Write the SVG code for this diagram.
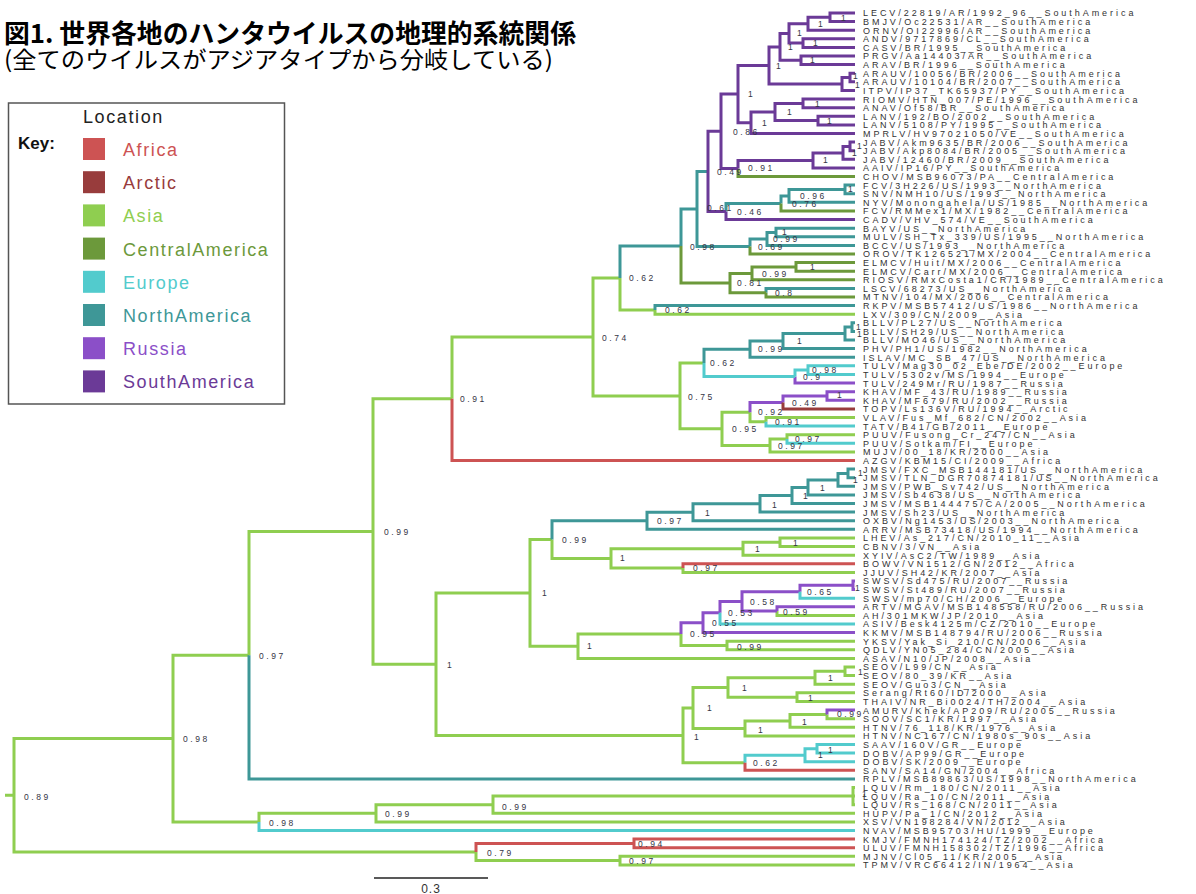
<svg xmlns="http://www.w3.org/2000/svg" width="1196" height="894" viewBox="0 0 1196 894">
<style>
.br{fill:none;stroke-width:3;stroke-linejoin:miter;stroke-linecap:butt}
.cG{stroke:#8fce50}.cN{stroke:#3e9797}.cC{stroke:#6c993b}.cS{stroke:#6b3a97}
.cU{stroke:#8b4fc8}.cE{stroke:#52cbcd}.cA{stroke:#cd5353}.cR{stroke:#983c3c}
.t{font-family:"Liberation Sans",Arial,sans-serif;font-size:9px;letter-spacing:2.95px;fill:#333}
.s{font-family:"Liberation Sans",Arial,sans-serif;font-size:8.5px;letter-spacing:2.6px;fill:#353545}
.lg{font-family:"Liberation Sans",Arial,sans-serif;font-size:18px;letter-spacing:1.6px}
</style>
<rect width="1196" height="894" fill="#ffffff"/>
<g id="title">
<text x="4" y="43" font-family="'Noto Sans CJK JP','Liberation Sans',sans-serif" font-size="26" font-weight="bold" fill="#000" textLength="572" lengthAdjust="spacingAndGlyphs">図1. 世界各地のハンタウイルスの地理的系統関係</text>
<text x="4" y="68" font-family="'Noto Sans CJK JP','Liberation Sans',sans-serif" font-size="23" fill="#000" textLength="549" lengthAdjust="spacingAndGlyphs">(全てのウイルスがアジアタイプから分岐している)</text>
</g>
<g id="legend">
<rect x="8.5" y="103" width="276" height="301" fill="none" stroke="#555" stroke-width="1.5"/>
<text x="83" y="123" class="lg" fill="#222">Location</text>
<text x="18" y="149" font-family="'Liberation Sans',Arial,sans-serif" font-size="17" font-weight="bold" fill="#111">Key:</text>
<rect x="83" y="138" width="22" height="22" fill="#cd5353"/><text x="123" y="156" class="lg" fill="#cd5353">Africa</text>
<rect x="83" y="171.2" width="22" height="22" fill="#983c3c"/><text x="123" y="189.2" class="lg" fill="#983c3c">Arctic</text>
<rect x="83" y="204.4" width="22" height="22" fill="#8fce50"/><text x="123" y="222.4" class="lg" fill="#8fce50">Asia</text>
<rect x="83" y="237.6" width="22" height="22" fill="#6c993b"/><text x="123" y="255.6" class="lg" fill="#6c993b">CentralAmerica</text>
<rect x="83" y="270.8" width="22" height="22" fill="#52cbcd"/><text x="123" y="288.8" class="lg" fill="#52cbcd">Europe</text>
<rect x="83" y="304" width="22" height="22" fill="#3e9797"/><text x="123" y="322" class="lg" fill="#3e9797">NorthAmerica</text>
<rect x="83" y="337.2" width="22" height="22" fill="#8b4fc8"/><text x="123" y="355.2" class="lg" fill="#8b4fc8">Russia</text>
<rect x="83" y="370.4" width="22" height="22" fill="#6b3a97"/><text x="123" y="388.4" class="lg" fill="#6b3a97">SouthAmerica</text>
</g>
<g id="connectors">
<path class="br cG" d="M5,795.3H14 M14,795.3V738.6H173 M14,795.3V852H476 M173,738.6V655.2H249 M173,738.6V821.9H259 M249,655.2V531.5H373 M373,531.5V398.7H452 M373,531.5V664.2H436 M452,398.7V337H593 M593,337V278H620 M593,337V395.9H680 M620,278V309.9H655 M655,309.9V314.2H855 M680,395.9V362.9H704 M680,395.9V428.8H722 M722,428.8V412.2H750 M722,428.8V445.5H770 M750,412.2V421.8H766 M766,421.8V417.5H855 M770,445.5V439H787 M770,445.5V451.9H855 M787,439V434.7H855 M436,664.2V593H530 M436,664.2V735.4H683 M530,593V539.6H552 M530,593V646.3H578 M552,539.6V558.4H611 M611,558.4V548.7H743 M611,558.4V568.1H683 M743,548.7V542.2H780 M743,548.7V555.2H855 M780,542.2V537.9H855 M780,542.2V546.5H855 M683,568.1V572.4H855 M578,646.3V634.1H681 M578,646.3V658.4H855 M681,634.1V645.5H727 M727,645.5V641.2H855 M727,645.5V649.8H855 M777,611.1V615.4H855 M683,735.4V708H693 M683,735.4V762.8H745 M693,708V687.5H728 M693,708V728.4H745 M728,687.5V677.8H815 M728,687.5V697.2H797 M815,677.8V671.3H845 M815,677.8V684.2H855 M845,671.3V667H855 M845,671.3V675.6H855 M797,697.2V692.8H855 M797,697.2V701.5H855 M745,728.4V720.9H790 M745,728.4V735.9H855 M790,720.9V714.4H827 M790,720.9V727.3H855 M827,714.4V718.7H855 M259,821.9V813.3H376 M376,813.3V804.7H493 M376,813.3V821.9H855 M493,804.7V796.1H853 M493,804.7V813.3H855 M853,796.1V787.5H855 M853,796.1H855 M853,796.1V804.7H855 M476,852V860.6H620 M620,860.6V856.3H855 M620,860.6V864.9H855"/>
<path class="br cN" d="M249,655.2V778.9H855 M620,278V246H681 M655,309.9V305.6H855 M681,246V209H697 M697,209V171.4H708 M697,209V246.5H750 M726,211.5V203.4H781 M781,203.4V195.9H789 M789,195.9V189.4H845 M789,195.9V202.3H855 M845,189.4V185.1H855 M845,189.4V193.7H855 M750,246.5V239H767 M767,239V232.5H776 M767,239V245.4H855 M776,232.5V228.2H855 M776,232.5V236.8H855 M766,292.7V288.4H855 M704,362.9V349.2H750 M750,349.2V341.1H783 M750,349.2V357.2H855 M783,341.1V333.6H845 M783,341.1V348.6H855 M845,333.6V327.1H852 M845,333.6V340H855 M852,327.1V322.8H855 M852,327.1V331.4H855 M552,539.6V520.8H647 M647,520.8V512.2H693 M647,520.8V529.3H855 M693,512.2V503.8H760 M693,512.2V520.7H855 M760,503.8V495.5H792 M760,503.8V512.1H855 M792,495.5V487.4H808 M792,495.5V503.5H855 M808,487.4V479.9H838 M808,487.4V494.9H855 M838,479.9V473.4H848 M838,479.9V486.3H855 M848,473.4V469.1H855 M848,473.4V477.7H855"/>
<path class="br cC" d="M681,246V283.1H730 M738,168.5V176.5H855 M781,203.4V210.9H855 M750,246.5V254H855 M730,283.1V273.4H752 M730,283.1V292.7H766 M752,273.4V266.9H796 M752,273.4V279.8H855 M796,266.9V262.6H855 M796,266.9V271.2H855 M766,292.7V297H855"/>
<path class="br cS" d="M708,171.4V131.3H721 M708,171.4V211.5H726 M726,211.5V219.5H855 M721,131.3V94.1H738 M721,131.3V168.5H738 M738,168.5V160.4H813 M813,160.4V152.9H843 M813,160.4V167.9H855 M843,152.9V146.4H850 M843,152.9V159.3H855 M850,146.4V142.1H855 M850,146.4V150.7H855 M738,94.1V65.4H769 M738,94.1V122.8H751 M769,65.4V46.9H780 M769,65.4V84H842 M780,46.9V33.4H789 M780,46.9V60.3H801 M789,33.4V23.75H808 M789,33.4V43.1H803 M808,23.75V17.3H830 M808,23.75V30.2H855 M830,17.3V13H855 M830,17.3V21.6H855 M803,43.1V38.8H855 M803,43.1V47.4H855 M801,60.3V56H855 M801,60.3V64.6H855 M842,84V77.5H850 M842,84V90.5H855 M850,77.5V73.2H855 M850,77.5V81.8H855 M751,122.8V112H775 M751,122.8V133.5H855 M775,112V103.4H803 M775,112V120.6H818 M803,103.4V99.1H855 M803,103.4V107.7H855 M818,120.6V116.3H855 M818,120.6V124.9H855"/>
<path class="br cU" d="M795,376.6V383.1H855 M750,412.2V402.5H783 M783,402.5V396H827 M827,396V391.7H855 M827,396V400.3H855 M681,634.1V622.7H703 M703,622.7V612.8H720 M703,622.7V632.6H855 M720,612.8V601.5H742 M742,601.5V591.8H800 M742,601.5V611.1H777 M800,591.8V585.3H853 M853,585.3V581H855 M853,585.3V589.6H855 M777,611.1V606.8H855 M827,714.4V710.1H855"/>
<path class="br cE" d="M704,362.9V376.6H795 M795,376.6V370.1H808 M808,370.1V365.8H855 M808,370.1V374.4H855 M766,421.8V426.1H855 M787,439V443.3H855 M720,612.8V624H855 M800,591.8V598.2H855 M745,762.8V755.3H805 M805,755.3V748.8H817 M805,755.3V761.7H855 M817,748.8V744.5H855 M817,748.8V753.1H855 M259,821.9V830.5H855"/>
<path class="br cA" d="M452,398.7V460.5H855 M683,568.1V563.8H855 M745,762.8V770.3H855 M476,852V843.4H634 M634,843.4V839.1H855 M634,843.4V847.7H855"/>
<path class="br cR" d="M783,402.5V408.9H855"/>
</g>
<g id="scale-bar">
<line x1="374" y1="878" x2="488" y2="878" stroke="#222" stroke-width="1.5"/>
<text x="431" y="893" text-anchor="middle" font-family="'Liberation Sans',Arial,sans-serif" font-size="12" letter-spacing="1" fill="#333">0.3</text>
</g>
<g id="support-values">
<g id="nd01"><text class="s" x="841" y="21">1</text></g>
<g id="nd02"><text class="s" x="818" y="27">1</text></g>
<g id="nd03"><text class="s" x="797" y="36">1</text></g>
<g id="nd04"><text class="s" x="813" y="46">1</text></g>
<g id="nd05"><text class="s" x="788" y="50">1</text></g>
<g id="nd06"><text class="s" x="810" y="63">1</text></g>
<g id="nd07"><text class="s" x="776" y="69">1</text></g>
<g id="nd08"><text class="s" x="853" y="79">1</text></g>
<g id="nd09"><text class="s" x="855" y="88">1</text></g>
<g id="nd10"><text class="s" x="748" y="97">1</text></g>
<g id="nd11"><text class="s" x="815" y="107">1</text></g>
<g id="nd12"><text class="s" x="787" y="115">1</text></g>
<g id="nd13"><text class="s" x="827" y="124">1</text></g>
<g id="nd14"><text class="s" x="762" y="126">1</text></g>
<g id="nd15"><text class="s" x="733" y="135">0.86</text></g>
<g id="nd16"><text class="s" x="857" y="149">1</text></g>
<g id="nd17"><text class="s" x="852" y="156">1</text></g>
<g id="nd18"><text class="s" x="823" y="163">1</text></g>
<g id="nd19"><text class="s" x="717" y="175">0.49</text></g>
<g id="nd20"><text class="s" x="748" y="171">0.91</text></g>
<g id="nd21"><text class="s" x="848" y="192">1</text></g>
<g id="nd22"><text class="s" x="800" y="199">0.96</text></g>
<g id="nd23"><text class="s" x="792" y="207">0.76</text></g>
<g id="nd24"><text class="s" x="707" y="211">0.61</text></g>
<g id="nd25"><text class="s" x="737" y="215">0.46</text></g>
<g id="nd26"><text class="s" x="782" y="235">1</text></g>
<g id="nd27"><text class="s" x="773" y="242">0.99</text></g>
<g id="nd28"><text class="s" x="690" y="250">0.98</text></g>
<g id="nd29"><text class="s" x="758" y="250">0.69</text></g>
<g id="nd30"><text class="s" x="810" y="270">1</text></g>
<g id="nd31"><text class="s" x="762" y="277">0.99</text></g>
<g id="nd32"><text class="s" x="629" y="281">0.62</text></g>
<g id="nd33"><text class="s" x="737" y="286">0.81</text></g>
<g id="nd34"><text class="s" x="775" y="296">0.8</text></g>
<g id="nd35"><text class="s" x="665" y="313">0.62</text></g>
<g id="nd36"><text class="s" x="602" y="341">0.74</text></g>
<g id="nd37"><text class="s" x="856" y="330">1</text></g>
<g id="nd38"><text class="s" x="857" y="337">1</text></g>
<g id="nd39"><text class="s" x="797" y="344">1</text></g>
<g id="nd40"><text class="s" x="758" y="352">0.99</text></g>
<g id="nd41"><text class="s" x="710" y="366">0.62</text></g>
<g id="nd42"><text class="s" x="812" y="373">0.98</text></g>
<g id="nd43"><text class="s" x="803" y="380">0.9</text></g>
<g id="nd44"><text class="s" x="837" y="398">1</text></g>
<g id="nd45"><text class="s" x="688" y="400">0.75</text></g>
<g id="nd46"><text class="s" x="460" y="402">0.91</text></g>
<g id="nd47"><text class="s" x="792" y="406">0.49</text></g>
<g id="nd48"><text class="s" x="758" y="415">0.92</text></g>
<g id="nd49"><text class="s" x="775" y="425">0.91</text></g>
<g id="nd50"><text class="s" x="732" y="432">0.95</text></g>
<g id="nd51"><text class="s" x="795" y="442">0.97</text></g>
<g id="nd52"><text class="s" x="778" y="449">0.97</text></g>
<g id="nd53"><text class="s" x="858" y="476">1</text></g>
<g id="nd54"><text class="s" x="853" y="483">1</text></g>
<g id="nd55"><text class="s" x="820" y="491">1</text></g>
<g id="nd56"><text class="s" x="803" y="499">1</text></g>
<g id="nd57"><text class="s" x="772" y="508">1</text></g>
<g id="nd58"><text class="s" x="705" y="516">1</text></g>
<g id="nd59"><text class="s" x="657" y="524">0.97</text></g>
<g id="nd60"><text class="s" x="562" y="543">0.99</text></g>
<g id="nd61"><text class="s" x="793" y="546">1</text></g>
<g id="nd62"><text class="s" x="755" y="552">1</text></g>
<g id="nd63"><text class="s" x="620" y="561">1</text></g>
<g id="nd64"><text class="s" x="693" y="571">0.97</text></g>
<g id="nd65"><text class="s" x="855" y="591">1</text></g>
<g id="nd66"><text class="s" x="807" y="595">0.65</text></g>
<g id="nd67"><text class="s" x="542" y="596">1</text></g>
<g id="nd68"><text class="s" x="750" y="605">0.58</text></g>
<g id="nd69"><text class="s" x="783" y="615">0.59</text></g>
<g id="nd70"><text class="s" x="728" y="616">0.53</text></g>
<g id="nd71"><text class="s" x="712" y="626">0.55</text></g>
<g id="nd72"><text class="s" x="690" y="637">0.95</text></g>
<g id="nd73"><text class="s" x="587" y="649">1</text></g>
<g id="nd74"><text class="s" x="737" y="650">0.99</text></g>
<g id="nd75"><text class="s" x="447" y="668">1</text></g>
<g id="nd76"><text class="s" x="858" y="675">1</text></g>
<g id="nd77"><text class="s" x="828" y="681">1</text></g>
<g id="nd78"><text class="s" x="742" y="691">1</text></g>
<g id="nd79"><text class="s" x="808" y="701">1</text></g>
<g id="nd80"><text class="s" x="707" y="711">1</text></g>
<g id="nd81"><text class="s" x="837" y="717">0.99</text></g>
<g id="nd82"><text class="s" x="802" y="725">1</text></g>
<g id="nd83"><text class="s" x="758" y="733">1</text></g>
<g id="nd84"><text class="s" x="694" y="740">1</text></g>
<g id="nd85"><text class="s" x="828" y="753">1</text></g>
<g id="nd86"><text class="s" x="818" y="758">1</text></g>
<g id="nd87"><text class="s" x="753" y="766">0.62</text></g>
<g id="nd88"><text class="s" x="862" y="797">1</text></g>
<g id="nd89"><text class="s" x="502" y="810">0.99</text></g>
<g id="nd90"><text class="s" x="385" y="817">0.99</text></g>
<g id="nd91"><text class="s" x="269" y="826">0.98</text></g>
<g id="nd92"><text class="s" x="638" y="847">0.94</text></g>
<g id="nd93"><text class="s" x="487" y="856">0.79</text></g>
<g id="nd94"><text class="s" x="629" y="864">0.97</text></g>
<g id="nd95"><text class="s" x="259" y="659">0.97</text></g>
<g id="nd96"><text class="s" x="183" y="742">0.98</text></g>
<g id="nd97"><text class="s" x="24" y="800">0.89</text></g>
<g id="nd98"><text class="s" x="384" y="535">0.99</text></g>
</g>
<g id="tips">
<g id="tip001"><text class="t" x="863" y="16.4">LECV/22819/AR/1992_96__SouthAmerica</text></g>
<g id="tip002"><text class="t" x="863" y="25">BMJV/Oc22531/AR__SouthAmerica</text></g>
<g id="tip003"><text class="t" x="863" y="33.6">ORNV/OI22996/AR__SouthAmerica</text></g>
<g id="tip004"><text class="t" x="863" y="42.2">ANDV/9717869/CL__SouthAmerica</text></g>
<g id="tip005"><text class="t" x="863" y="50.8">CASV/BR/1995__SouthAmerica</text></g>
<g id="tip006"><text class="t" x="863" y="59.4">PRGV/Aa14403/AR__SouthAmerica</text></g>
<g id="tip007"><text class="t" x="863" y="68">ARAV/BR/1996__SouthAmerica</text></g>
<g id="tip008"><text class="t" x="863" y="76.6">ARAUV/10056/BR/2006__SouthAmerica</text></g>
<g id="tip009"><text class="t" x="863" y="85.2">ARAUV/10104/BR/2007__SouthAmerica</text></g>
<g id="tip010"><text class="t" x="863" y="93.9">ITPV/IP37_TK65937/PY__SouthAmerica</text></g>
<g id="tip011"><text class="t" x="863" y="102.5">RIOMV/HTN_007/PE/1996__SouthAmerica</text></g>
<g id="tip012"><text class="t" x="863" y="111.1">ANAV/Of58/BR__SouthAmerica</text></g>
<g id="tip013"><text class="t" x="863" y="119.7">LANV/192/BO/2002__SouthAmerica</text></g>
<g id="tip014"><text class="t" x="863" y="128.3">LANV/5108/PY/1995__SouthAmerica</text></g>
<g id="tip015"><text class="t" x="863" y="136.9">MPRLV/HV97021050/VE__SouthAmerica</text></g>
<g id="tip016"><text class="t" x="863" y="145.5">JABV/Akm9635/BR/2006__SouthAmerica</text></g>
<g id="tip017"><text class="t" x="863" y="154.1">JABV/Akp8084/BR/2005__SouthAmerica</text></g>
<g id="tip018"><text class="t" x="863" y="162.7">JABV/12460/BR/2009__SouthAmerica</text></g>
<g id="tip019"><text class="t" x="863" y="171.3">AAIV/IP16/PY__SouthAmerica</text></g>
<g id="tip020"><text class="t" x="863" y="179.9">CHOV/MSB96073/PA__CentralAmerica</text></g>
<g id="tip021"><text class="t" x="863" y="188.5">FCV/3H226/US/1993__NorthAmerica</text></g>
<g id="tip022"><text class="t" x="863" y="197.1">SNV/NMH10/US/1993__NorthAmerica</text></g>
<g id="tip023"><text class="t" x="863" y="205.7">NYV/Monongahela/US/1985__NorthAmerica</text></g>
<g id="tip024"><text class="t" x="863" y="214.3">FCV/RMMex1/MX/1982__CentralAmerica</text></g>
<g id="tip025"><text class="t" x="863" y="222.9">CADV/VHV_574/VE__SouthAmerica</text></g>
<g id="tip026"><text class="t" x="863" y="231.6">BAYV/US__NorthAmerica</text></g>
<g id="tip027"><text class="t" x="863" y="240.2">MULV/SH_Tx_339/US/1995__NorthAmerica</text></g>
<g id="tip028"><text class="t" x="863" y="248.8">BCCV/US/1993__NorthAmerica</text></g>
<g id="tip029"><text class="t" x="863" y="257.4">OROV/TK126521/MX/2004__CentralAmerica</text></g>
<g id="tip030"><text class="t" x="863" y="266">ELMCV/Huit/MX/2006__CentralAmerica</text></g>
<g id="tip031"><text class="t" x="863" y="274.6">ELMCV/Carr/MX/2006__CentralAmerica</text></g>
<g id="tip032"><text class="t" x="863" y="283.2">RIOSV/RMxCosta1/CR/1989__CentralAmerica</text></g>
<g id="tip033"><text class="t" x="863" y="291.8">LSCV/68273/US__NorthAmerica</text></g>
<g id="tip034"><text class="t" x="863" y="300.4">MTNV/104/MX/2006__CentralAmerica</text></g>
<g id="tip035"><text class="t" x="863" y="309">RKPV/MSB57412/US/1986__NorthAmerica</text></g>
<g id="tip036"><text class="t" x="863" y="317.6">LXV/309/CN/2009__Asia</text></g>
<g id="tip037"><text class="t" x="863" y="326.2">BLLV/PL27/US__NorthAmerica</text></g>
<g id="tip038"><text class="t" x="863" y="334.8">BLLV/SH29/US__NorthAmerica</text></g>
<g id="tip039"><text class="t" x="863" y="343.4">BLLV/MO46/US__NorthAmerica</text></g>
<g id="tip040"><text class="t" x="863" y="352">PHV/PH1/US/1982__NorthAmerica</text></g>
<g id="tip041"><text class="t" x="863" y="360.6">ISLAV/MC_SB_47/US__NorthAmerica</text></g>
<g id="tip042"><text class="t" x="863" y="369.2">TULV/Mag30_02_Ebe/DE/2002__Europe</text></g>
<g id="tip043"><text class="t" x="863" y="377.8">TULV/5302v/MS/1994__Europe</text></g>
<g id="tip044"><text class="t" x="863" y="386.5">TULV/249Mr/RU/1987__Russia</text></g>
<g id="tip045"><text class="t" x="863" y="395.1">KHAV/MF_43/RU/1989__Russia</text></g>
<g id="tip046"><text class="t" x="863" y="403.7">KHAV/MF679/RU/2002__Russia</text></g>
<g id="tip047"><text class="t" x="863" y="412.3">TOPV/Ls136V/RU/1994__Arctic</text></g>
<g id="tip048"><text class="t" x="863" y="420.9">VLAV/Fus_Mf_682/CN/2002__Asia</text></g>
<g id="tip049"><text class="t" x="863" y="429.5">TATV/B41/GB/2011__Europe</text></g>
<g id="tip050"><text class="t" x="863" y="438.1">PUUV/Fusong_Cr_247/CN__Asia</text></g>
<g id="tip051"><text class="t" x="863" y="446.7">PUUV/Sotkam/FI__Europe</text></g>
<g id="tip052"><text class="t" x="863" y="455.3">MUJV/00_18/KR/2000__Asia</text></g>
<g id="tip053"><text class="t" x="863" y="463.9">AZGV/KBM15/CI/2009__Africa</text></g>
<g id="tip054"><text class="t" x="863" y="472.5">JMSV/FXC_MSB144181/US__NorthAmerica</text></g>
<g id="tip055"><text class="t" x="863" y="481.1">JMSV/TLN_DGR70874181/US__NorthAmerica</text></g>
<g id="tip056"><text class="t" x="863" y="489.7">JMSV/PWB_Sv742/US__NorthAmerica</text></g>
<g id="tip057"><text class="t" x="863" y="498.3">JMSV/Sb4638/US__NorthAmerica</text></g>
<g id="tip058"><text class="t" x="863" y="506.9">JMSV/MSB144475/CA/2005__NorthAmerica</text></g>
<g id="tip059"><text class="t" x="863" y="515.5">JMSV/Sh23/US__NorthAmerica</text></g>
<g id="tip060"><text class="t" x="863" y="524.1">OXBV/Ng1453/US/2003__NorthAmerica</text></g>
<g id="tip061"><text class="t" x="863" y="532.7">ARRV/MSB73418/US/1994__NorthAmerica</text></g>
<g id="tip062"><text class="t" x="863" y="541.3">LHEV/As_217/CN/2010_11__Asia</text></g>
<g id="tip063"><text class="t" x="863" y="549.9">CBNV/3/VN__Asia</text></g>
<g id="tip064"><text class="t" x="863" y="558.6">XYIV/AsC2/TW/1989__Asia</text></g>
<g id="tip065"><text class="t" x="863" y="567.2">BOWV/VN1512/GN/2012__Africa</text></g>
<g id="tip066"><text class="t" x="863" y="575.8">JJUV/SH42/KR/2007__Asia</text></g>
<g id="tip067"><text class="t" x="863" y="584.4">SWSV/Sd475/RU/2007__Russia</text></g>
<g id="tip068"><text class="t" x="863" y="593">SWSV/St489/RU/2007__Russia</text></g>
<g id="tip069"><text class="t" x="863" y="601.6">SWSV/mp70/CH/2006__Europe</text></g>
<g id="tip070"><text class="t" x="863" y="610.2">ARTV/MGAV/MSB148558/RU/2006__Russia</text></g>
<g id="tip071"><text class="t" x="863" y="618.8">AH/301MKW/JP/2010__Asia</text></g>
<g id="tip072"><text class="t" x="863" y="627.4">ASIV/Besk4125m/CZ/2010__Europe</text></g>
<g id="tip073"><text class="t" x="863" y="636">KKMV/MSB148794/RU/2006__Russia</text></g>
<g id="tip074"><text class="t" x="863" y="644.6">YKSV/Yak_Si_210/CN/2006__Asia</text></g>
<g id="tip075"><text class="t" x="863" y="653.2">QDLV/YN05_284/CN/2005__Asia</text></g>
<g id="tip076"><text class="t" x="863" y="661.8">ASAV/N10/JP/2008__Asia</text></g>
<g id="tip077"><text class="t" x="863" y="670.4">SEOV/L99/CN__Asia</text></g>
<g id="tip078"><text class="t" x="863" y="679">SEOV/80_39/KR__Asia</text></g>
<g id="tip079"><text class="t" x="863" y="687.6">SEOV/Guo3/CN__Asia</text></g>
<g id="tip080"><text class="t" x="863" y="696.2">Serang/Rt60/ID/2000__Asia</text></g>
<g id="tip081"><text class="t" x="863" y="704.9">THAIV/NR_Bi0024/TH/2004__Asia</text></g>
<g id="tip082"><text class="t" x="863" y="713.5">AMURV/Khek/AP209/RU/2005__Russia</text></g>
<g id="tip083"><text class="t" x="863" y="722.1">SOOV/SC1/KR/1997__Asia</text></g>
<g id="tip084"><text class="t" x="863" y="730.7">HTNV/76_118/KR/1976__Asia</text></g>
<g id="tip085"><text class="t" x="863" y="739.3">HTNV/NC167/CN/1980s_90s__Asia</text></g>
<g id="tip086"><text class="t" x="863" y="747.9">SAAV/160V/GR__Europe</text></g>
<g id="tip087"><text class="t" x="863" y="756.5">DOBV/AP99/GR__Europe</text></g>
<g id="tip088"><text class="t" x="863" y="765.1">DOBV/SK/2009__Europe</text></g>
<g id="tip089"><text class="t" x="863" y="773.7">SANV/SA14/GN/2004__Africa</text></g>
<g id="tip090"><text class="t" x="863" y="782.3">RPLV/MSB89863/US/1998__NorthAmerica</text></g>
<g id="tip091"><text class="t" x="863" y="790.9">LQUV/Rm_180/CN/2011__Asia</text></g>
<g id="tip092"><text class="t" x="863" y="799.5">LQUV/Ra_10/CN/2011__Asia</text></g>
<g id="tip093"><text class="t" x="863" y="808.1">LQUV/Rs_168/CN/2011__Asia</text></g>
<g id="tip094"><text class="t" x="863" y="816.7">HUPV/Pa_1/CN/2012__Asia</text></g>
<g id="tip095"><text class="t" x="863" y="825.3">XSV/VN198284/VN/2012__Asia</text></g>
<g id="tip096"><text class="t" x="863" y="833.9">NVAV/MSB95703/HU/1999__Europe</text></g>
<g id="tip097"><text class="t" x="863" y="842.5">KMJV/FMNH174124/TZ/2002__Africa</text></g>
<g id="tip098"><text class="t" x="863" y="851.1">ULUV/FMNH158302/TZ/1996__Africa</text></g>
<g id="tip099"><text class="t" x="863" y="859.7">MJNV/Cl05_11/KR/2005__Asia</text></g>
<g id="tip100"><text class="t" x="863" y="868.3">TPMV/VRC66412/IN/1964__Asia</text></g>
</g>
</svg>
